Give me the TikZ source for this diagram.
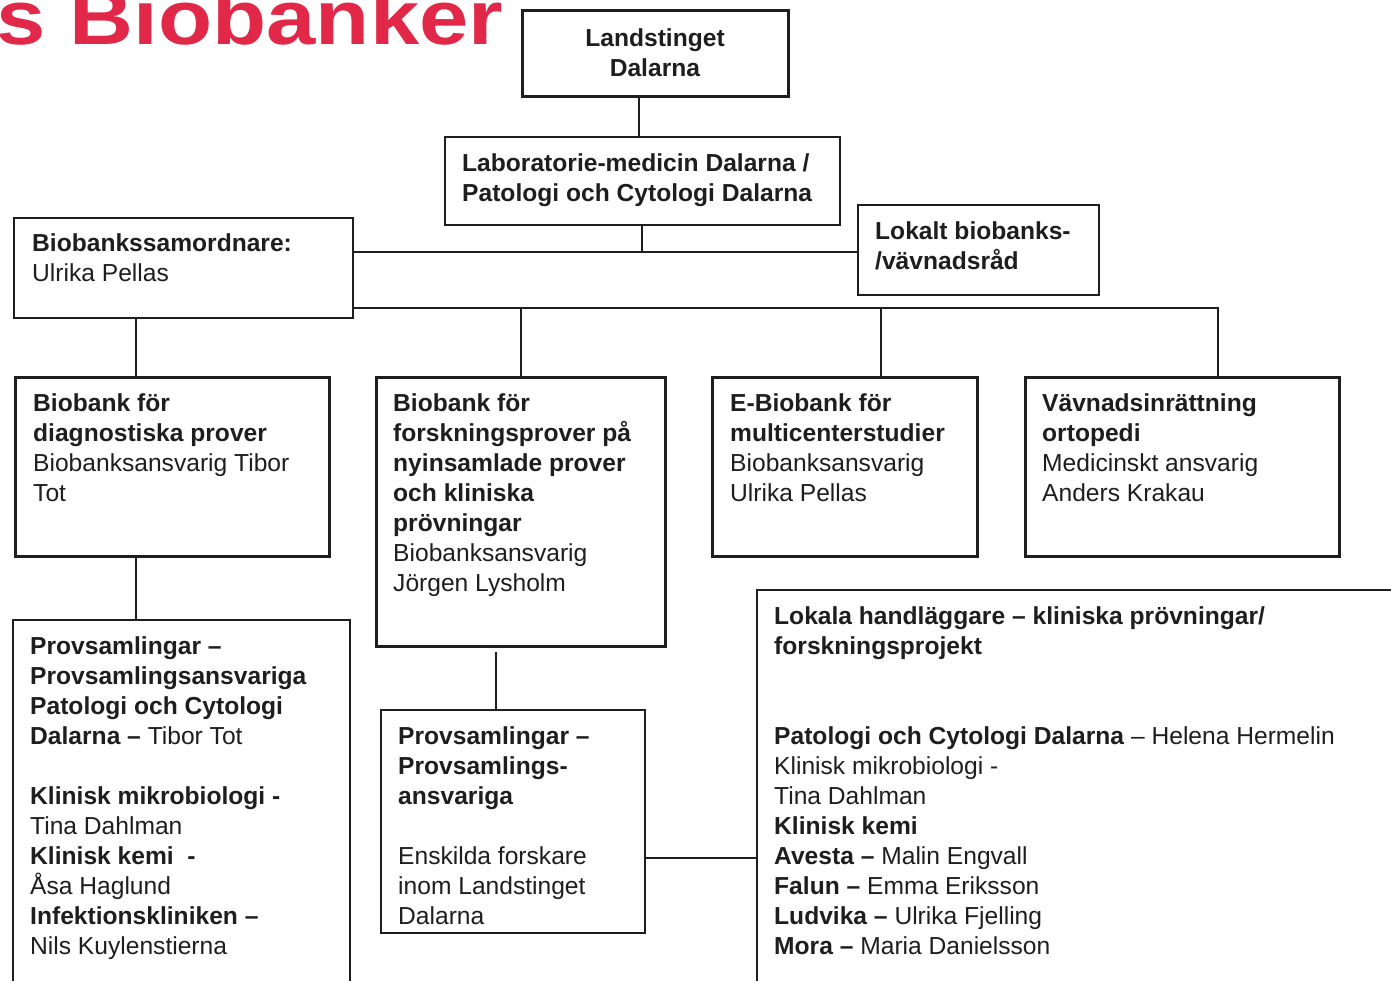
\documentclass[tikz,border=0pt]{standalone}
\usepackage{fontspec}
\setmainfont{Liberation Sans}
\newfontfamily\titlefont[FakeStretch=1.15]{Liberation Sans}
\definecolor{titlered}{RGB}{226,40,72}
\definecolor{ink}{RGB}{30,30,30}
\newcommand\dgfont{\fontsize{24.6}{30}\selectfont}
\newcommand\tstrut{\rule{0pt}{20pt}}
\begin{document}
\begin{tikzpicture}[x=1pt,y=-1pt,
  box/.style={draw=ink, line width=2pt, outer sep=0pt, inner sep=0pt, anchor=north west},
  thickbox/.style={box, line width=3pt},
  txt/.style={anchor=north west, align=left, inner sep=0pt, font=\dgfont, text=ink},
  link/.style={draw=ink, line width=2pt}]
\clip (0,0) rectangle (1391,981);
\fill[white] (0,0) rectangle (1391,981);

% heading
\node[anchor=base west, inner sep=0pt, text=titlered,
      font=\titlefont\fontsize{77}{80}\selectfont\bfseries] (title) at (-4,45) {s Biobanker};

% boxes
\node[thickbox, minimum width=266, minimum height=86] (land) at (522,11) {};
\node[box, minimum width=395, minimum height=88] (lab) at (445,137) {};
\node[box, minimum width=339, minimum height=100] (samord) at (14,218) {};
\node[box, minimum width=241, minimum height=90] (lokalt) at (858,205) {};
\node[thickbox, minimum width=314, minimum height=179] (diag) at (15,377) {};
\node[thickbox, minimum width=289, minimum height=269] (forsk) at (376,377) {};
\node[thickbox, minimum width=265, minimum height=179] (ebio) at (712,377) {};
\node[thickbox, minimum width=314, minimum height=179] (vav) at (1025,377) {};
\node[box, minimum width=337, minimum height=380] (prov1) at (13,620) {};
\node[box, minimum width=264, minimum height=223] (prov2) at (381,710) {};
\node[box, minimum width=643, minimum height=410] (lok) at (757,590) {};

% texts
\node[txt, anchor=north, align=center] (land-t) at (655,26) {\tstrut\textbf{Landstinget}\\\textbf{Dalarna}};
\node[txt] (lab-t) at (462,151) {\tstrut\textbf{Laboratorie-medicin Dalarna /}\\\textbf{Patologi och Cytologi Dalarna}};
\node[txt] (samord-t) at (32,231) {\tstrut\textbf{Biobankssamordnare:}\\Ulrika Pellas};
\node[txt] (lokalt-t) at (875,219) {\tstrut\textbf{Lokalt biobanks-}\\\textbf{/vävnadsråd}};
\node[txt] (diag-t) at (33,391) {\tstrut\textbf{Biobank för}\\\textbf{diagnostiska prover}\\Biobanksansvarig Tibor\\Tot};
\node[txt] (forsk-t) at (393,391) {\tstrut\textbf{Biobank för}\\\textbf{forskningsprover på}\\\textbf{nyinsamlade prover}\\\textbf{och kliniska}\\\textbf{prövningar}\\Biobanksansvarig\\Jörgen Lysholm};
\node[txt] (ebio-t) at (730,391) {\tstrut\textbf{E-Biobank för}\\\textbf{multicenterstudier}\\Biobanksansvarig\\Ulrika Pellas};
\node[txt] (vav-t) at (1042,391) {\tstrut\textbf{Vävnadsinrättning}\\\textbf{ortopedi}\\Medicinskt ansvarig\\Anders Krakau};
\node[txt] (prov1-t) at (30,634) {\tstrut\textbf{Provsamlingar –}\\\textbf{Provsamlingsansvariga}\\\textbf{Patologi och Cytologi}\\\textbf{Dalarna –} Tibor Tot\\[30pt]
  \textbf{Klinisk mikrobiologi -}\\Tina Dahlman\\\textbf{Klinisk kemi~~-}\\Åsa Haglund\\\textbf{Infektionskliniken –}\\Nils Kuylenstierna};
\node[txt] (prov2-t) at (398,724) {\tstrut\textbf{Provsamlingar –}\\\textbf{Provsamlings-}\\\textbf{ansvariga}\\[30pt]
  Enskilda forskare\\inom Landstinget\\Dalarna};
\node[txt] (lok-t) at (774,604) {\tstrut\textbf{Lokala handläggare – kliniska prövningar/}\\\textbf{forskningsprojekt}\\[60pt]
  \textbf{Patologi och Cytologi Dalarna} – Helena Hermelin\\Klinisk mikrobiologi -\\Tina Dahlman\\\textbf{Klinisk kemi}\\
  \textbf{Avesta –} Malin Engvall\\\textbf{Falun –} Emma Eriksson\\\textbf{Ludvika –} Ulrika Fjelling\\\textbf{Mora –} Maria Danielsson};

% connector guide positions
\coordinate (xA) at (639,0);
\coordinate (xB) at (642,0);
\coordinate (xC) at (521,0);
\coordinate (xD) at (881,0);
\coordinate (xE) at (1218,0);
\coordinate (xF) at (136,0);
\coordinate (xG) at (496,0);
\coordinate (yH1) at (0,252);
\coordinate (yH2) at (0,308);
\coordinate (yH3) at (0,858);
\coordinate (yG) at (0,652);

% connectors
\draw[link] (land.south -| xA) -- (lab.north -| xA);
\draw[link] (lab.south -| xB) -- (xB |- yH1);
\draw[link] (samord.east |- yH1) -- (lokalt.west |- yH1);
\draw[link] (samord.east |- yH2) -- (xE |- yH2) -- (vav.north -| xE);
\draw[link] (xC |- yH2) -- (forsk.north -| xC);
\draw[link] (xD |- yH2) -- (ebio.north -| xD);
\draw[link] (samord.south -| xF) -- (diag.north -| xF);
\draw[link] (diag.south -| xF) -- (prov1.north -| xF);
\draw[link] (xG |- yG) -- (prov2.north -| xG);
\draw[link] (prov2.east |- yH3) -- (lok.west |- yH3);
\end{tikzpicture}
\end{document}
